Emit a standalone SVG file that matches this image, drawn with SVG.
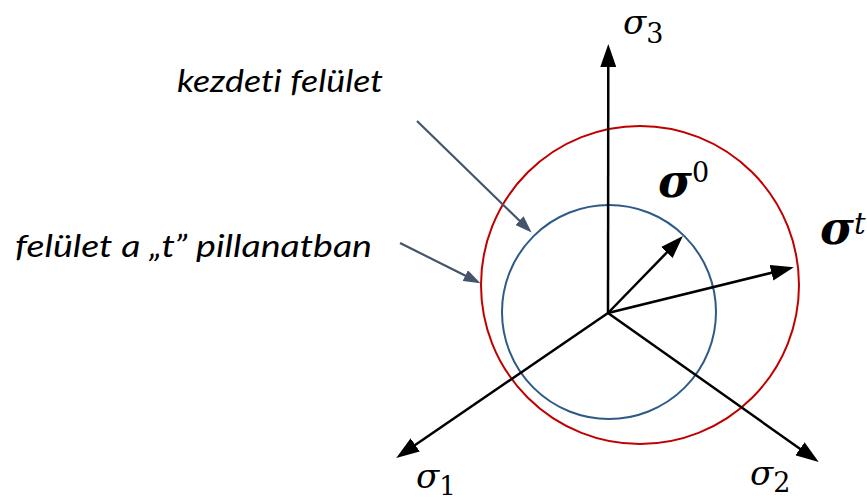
<svg xmlns="http://www.w3.org/2000/svg" width="867" height="501" viewBox="0 0 867 501">
<style>
.ax{stroke:#000;stroke-width:2.5;fill:none}
.ptr{stroke:#44546A;stroke-width:2.2;fill:none}
.sym{font-family:"DejaVu Serif","Liberation Serif",serif;font-style:italic;fill:#000}
.lbl{font-family:Lato,"Open Sans","Liberation Sans",sans-serif;font-style:italic;font-size:31px;fill:#000;font-variant-ligatures:none}
</style>
<defs>
<marker id="ah" markerUnits="userSpaceOnUse" markerWidth="24" markerHeight="16" refX="16" refY="8" orient="auto">
<path d="M0,0 L23,8 L0,16 Z" fill="#000"/>
</marker>
<marker id="ap" markerUnits="userSpaceOnUse" markerWidth="18" markerHeight="12" refX="12" refY="6" orient="auto">
<path d="M0,0 L17,6 L0,12 Z" fill="#44546A"/>
</marker>
</defs>
<g id="surface-t"><circle cx="640" cy="285" r="159" fill="none" stroke="#C00000" stroke-width="2"/></g>
<g id="surface-0"><circle cx="609" cy="312" r="107" fill="none" stroke="#2F5A88" stroke-width="2"/></g>
<g id="connectors">
<line class="ax" x1="608" y1="313" x2="608.3" y2="51" marker-end="url(#ah)"/>
<line class="ax" x1="608" y1="313" x2="402" y2="454" marker-end="url(#ah)"/>
<line class="ax" x1="608" y1="313" x2="813" y2="458" marker-end="url(#ah)"/>
<line class="ax" x1="608" y1="313" x2="678" y2="241" marker-end="url(#ah)"/>
<line class="ax" x1="608" y1="313" x2="787" y2="269" marker-end="url(#ah)"/>
<line class="ptr" x1="417" y1="121" x2="528" y2="229" marker-end="url(#ap)"/>
<line class="ptr" x1="400" y1="243" x2="476" y2="281" marker-end="url(#ap)"/>
</g>
<g id="label-s3"><text class="sym" x="623" y="34" font-size="34">σ<tspan font-style="normal" font-size="27" dy="9">3</tspan></text></g>
<g id="label-s1"><text class="sym" x="416" y="488" font-size="34">σ<tspan font-style="normal" font-size="26" dy="7">1</tspan></text></g>
<g id="label-s2"><text class="sym" x="750" y="485" font-size="34">σ<tspan font-style="normal" font-size="27" dy="7">2</tspan></text></g>
<g id="label-s0"><text class="sym" x="658" y="197" font-size="46" font-weight="bold">σ<tspan font-style="normal" font-weight="normal" font-size="27" dy="-15">0</tspan></text></g>
<g id="label-st"><text class="sym" x="820" y="244" font-size="46" font-weight="bold">σ<tspan font-weight="normal" font-size="29" dy="-10">t</tspan></text></g>
<g id="label-kezdeti"><text class="lbl" x="177" y="92" textLength="206" lengthAdjust="spacingAndGlyphs">kezdeti felület</text></g>
<g id="label-pillanat"><text class="lbl" x="15" y="257" textLength="357" lengthAdjust="spacingAndGlyphs">felület a „t” pillanatban</text></g>
</svg>
